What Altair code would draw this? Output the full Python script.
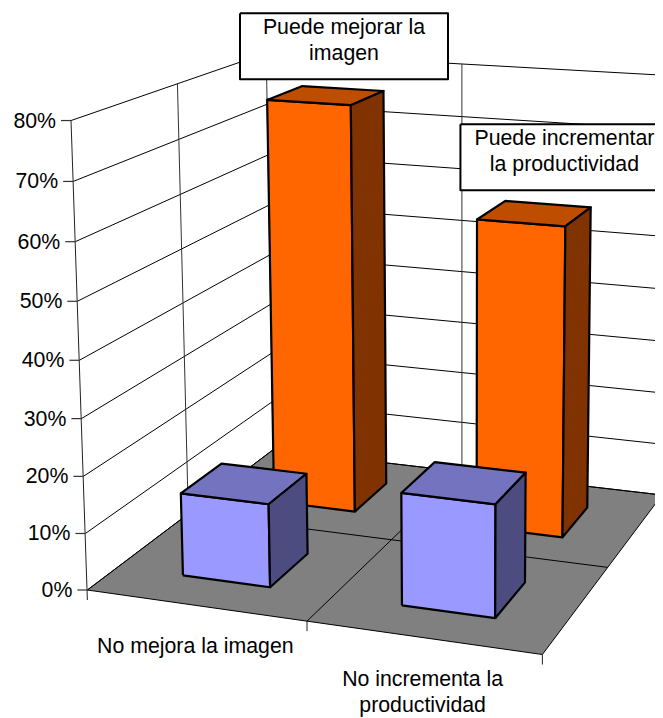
import numpy as np
import pandas as pd
import altair as alt

categories = ["No mejora la imagen", "No incrementa la\nproductividad"]
no_values = [0.147, 0.195]
yes_values = [0.76, 0.57]
yes_labels = ["Puede mejorar la\nimagen", "Puede incrementar\nla productividad"]
ticks = [0, 0.1, 0.2, 0.3, 0.4, 0.5, 0.6, 0.7, 0.8]
tick_labels = ["0%", "10%", "20%", "30%", "40%", "50%", "60%", "70%", "80%"]

BAR_HALF_U = 0.203
BAR_HALF_V = 0.21
BAR_SHIFT_U = 0.01
FONT = "Liberation Sans"
FS = 21.3

# camera calibration: world (category, depth, value) -> picture pixels
world = [(0, 0, 0), (2, 0, 0), (2, 2, 0), (0, 2, 0), (0, 0, .8), (0, 2, .8), (2, 2, .8), (0, 1, .8), (1, 2, .8), (1, 2, 0)]
pix = [(88, 589), (543, 655), (662, 495), (272, 450), (70, 121), (267, 53), (668, 75), (177, 84), (464, 64), (462, 472)]
A, b = [], []
for (X, Y, Z), (x, y) in zip(world, pix):
    A.append([X, Y, Z, 1, 0, 0, 0, 0, -x * X, -x * Y, -x * Z]); b.append(x)
    A.append([0, 0, 0, 0, X, Y, Z, 1, -y * X, -y * Y, -y * Z]); b.append(y)
P = np.append(np.linalg.lstsq(np.array(A, float), np.array(b, float), rcond=None)[0], 1).reshape(3, 4)


def proj(u, v, w):
    p = P @ np.array([u, v, w, 1.0])
    return p[0] / p[2], p[1] / p[2]


W, H = 647, 709
xs = alt.Scale(domain=[8, 8 + W], range=[0, W], nice=False, zero=False)
ys = alt.Scale(domain=[8, 8 + H], range=[0, H], nice=False, zero=False)


def path(pts, stroke="black", sw=1.0, fill=None, close=False):
    pts = list(pts)
    if close:
        pts = pts + [pts[0]]
    df = pd.DataFrame({"x": [p[0] for p in pts], "y": [p[1] for p in pts], "i": range(len(pts))})
    kw = dict(stroke=stroke, strokeWidth=sw, strokeJoin="round")
    if fill:
        kw["fill"] = fill
    return alt.Chart(df).mark_line(**kw).encode(
        x=alt.X("x:Q", scale=xs, axis=None),
        y=alt.Y("y:Q", scale=ys, axis=None),
        order="i:Q",
    )


def text(px, py, label, align="center"):
    df = pd.DataFrame({"x": [px], "y": [py], "t": [label]})
    return alt.Chart(df).mark_text(
        font=FONT, fontSize=FS, color="black", align=align, baseline="alphabetic",
        lineBreak="\n", lineHeight=26,
    ).encode(
        x=alt.X("x:Q", scale=xs, axis=None),
        y=alt.Y("y:Q", scale=ys, axis=None),
        text="t:N",
    )


def bar(uc, vc, val, front, top, side):
    uc = uc + BAR_SHIFT_U
    u0, u1, v0, v1 = uc - BAR_HALF_U, uc + BAR_HALF_U, vc - BAR_HALF_V, vc + BAR_HALF_V
    return [
        path([proj(u0, v0, 0), proj(u1, v0, 0), proj(u1, v0, val), proj(u0, v0, val)], sw=2.2, fill=front, close=True),
        path([proj(u0, v0, val), proj(u1, v0, val), proj(u1, v1, val), proj(u0, v1, val)], sw=2.2, fill=top, close=True),
        path([proj(u1, v0, 0), proj(u1, v1, 0), proj(u1, v1, val), proj(u1, v0, val)], sw=2.2, fill=side, close=True),
    ]


layers = []
# floor
layers.append(path([proj(0, 0, 0), proj(2, 0, 0), proj(2, 2, 0), proj(0, 2, 0)], fill="#808080", close=True))
layers.append(path([proj(1, 0, 0), proj(1, 2, 0)]))
layers.append(path([proj(0, 1, 0), proj(2, 1, 0)]))
# walls
for t in ticks:
    layers.append(path([proj(0, 0, t), proj(0, 2, t), proj(2.05, 2, t)]))
layers.append(path([proj(0, 1, 0), proj(0, 1, .8)], stroke="#333333"))
layers.append(path([proj(0, 2, 0), proj(0, 2, .8)], stroke="#333333"))
layers.append(path([proj(1, 2, 0), proj(1, 2, .8)], stroke="#333333"))
layers.append(path([proj(2, 2, 0), proj(2, 2, .8)], stroke="#333333"))
# axis lines and ticks
ax0 = proj(0, 0, 0)
layers.append(path([proj(0, 0, .8), (ax0[0], ax0[1] + 10)], stroke="#222222"))
for u in [1, 2]:
    p = proj(u, 0, 0)
    layers.append(path([p, (p[0], p[1] + 10)], stroke="#222222"))
for t, lab in zip(ticks, tick_labels):
    p = proj(0, 0, t)
    layers.append(path([(p[0] - 10, p[1]), p], stroke="#333333", sw=1.2))
    layers.append(text(p[0] - 15, p[1] + 7, lab, align="right"))
# bars, back to front
for i, val in enumerate(yes_values):
    layers += bar(i + 0.5, 1.5, val, "#FF6600", "#BF4D00", "#803300")
for i, val in enumerate(no_values):
    layers += bar(i + 0.5, 0.5, val, "#9999FF", "#7373BF", "#4C4C80")
# category labels
for i, c in enumerate(categories):
    p = proj(i + 0.5, 0, 0)
    layers.append(text(p[0], p[1] + 48, c))
# value labels: boxes placed relative to the top of their bar
offs = [(20, -49), (32, -56)]
for i, (val, lab) in enumerate(zip(yes_values, yes_labels)):
    p = proj(i + 0.5, 1.5, val)
    cx, cy = p[0] + offs[i][0], p[1] + offs[i][1]
    layers.append(path([(cx - 104, cy - 33), (cx + 104, cy - 33), (cx + 104, cy + 33), (cx - 104, cy + 33)], sw=2, fill="white", close=True))
    layers.append(text(cx, cy - 12, lab))

chart = alt.layer(*layers).properties(
    width=W, height=H, autosize=alt.AutoSizeParams(type="none"), padding=0, background="white",
).configure_view(strokeWidth=0, stroke="transparent")
chart.save("out.html", embed_options={"renderer": "svg", "actions": False})
